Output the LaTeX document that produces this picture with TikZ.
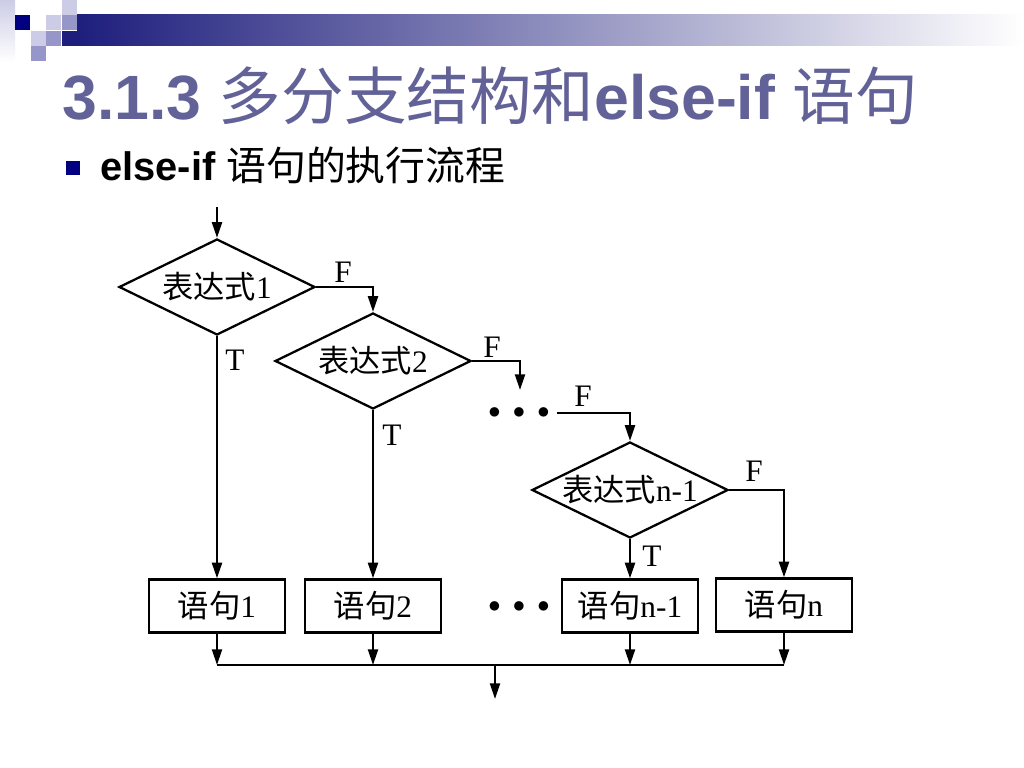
\documentclass[tikz,border=0pt]{standalone}
\usepackage{fontspec}
\setmainfont{Liberation Serif}
\newfontfamily\cjk{Noto Sans CJK SC}
\newfontfamily\headfont{Liberation Sans}
\newcommand{\zhtext}[1]{{\cjk\mdseries #1}}
\usetikzlibrary{shapes.geometric,arrows.meta}
\definecolor{titleblue}{RGB}{98,98,152}
\definecolor{slidenavy}{RGB}{0,0,128}
\definecolor{barnavy}{RGB}{30,30,125}
\definecolor{lightsq}{RGB}{204,204,230}
\definecolor{midsq}{RGB}{150,150,200}
\tikzset{
  test/.style={diamond, draw, line width=1.6pt, aspect=2.1, inner sep=0pt,
    minimum width=137.8pt, minimum height=67.5pt, font=\fontsize{22}{25}\selectfont},
  stmt/.style={rectangle, draw, line width=1.6pt, minimum width=95.6pt,
    minimum height=37.3pt, font=\fontsize{22}{25}\selectfont},
  lbl/.style={inner sep=0pt, font=\fontsize{22}{25}\selectfont},
  dots/.style={inner sep=0pt, font=\fontsize{19}{22}\selectfont},
  flow/.style={line width=1.6pt, -{Triangle[length=11pt,width=7pt]}},
}

\begin{document}
\begin{tikzpicture}[x=0.703125pt, y=-0.703125pt]
    \useasboundingbox (0,0) rectangle (1024,768);
    % corner squares and bar
    \shade[top color=lightsq, bottom color=white] (0,0) rectangle (15,62);
    \shade[left color=barnavy, right color=white] (77,15) rectangle (1024,46);
    \fill[slidenavy] (15,15) rectangle (30,30);
    \fill[lightsq] (46,15) rectangle (61,30);
    \fill[lightsq] (62,0) rectangle (77,15);
    \fill[midsq] (62,15) rectangle (77,30);
    \fill[barnavy] (62,31) rectangle (77,46);
    \fill[lightsq] (31,31) rectangle (46,46);
    \fill[midsq] (46,31) rectangle (61,46);
    \fill[midsq] (31,46) rectangle (46,61);
    % heading
    \node[anchor=base west, inner sep=0pt, text=titleblue,
      font=\headfont\bfseries\fontsize{44}{50}\selectfont] (title) at (62,120)
      {3.1.3 \zhtext{多分支结构和}else-if \zhtext{语句}};
    \node[fill=slidenavy, inner sep=0pt, minimum size=9.8pt] (bullet) at (73,168) {};
    \node[anchor=base west, inner sep=0pt, font=\headfont\fontsize{28}{32}\selectfont]
      (sub) at (100,181) {\textbf{else-if} \zhtext{语句的执行流程}};
    % flow chart
    \coordinate (in) at (217,207);
    \node[test] (d1) at (217,287) {\zhtext{表达式}1};
    \node[test] (d2) at (373,361) {\zhtext{表达式}2};
    \node[test] (d3) at (630,490) {\zhtext{表达式}n-1};
    \node[stmt] (b1) at (217,606) {\zhtext{语句}1};
    \node[stmt] (b2) at (373,606) {\zhtext{语句}2};
    \node[stmt] (b3) at (630,606) {\zhtext{语句}n-1};
    \node[stmt] (bn) at (784,605) {\zhtext{语句}n};
    \node[dots] (dots1) at (519,413) {$\bullet\mkern5mu\bullet\mkern5mu\bullet$};
    \node[dots] (dots2) at (519,607) {$\bullet\mkern5mu\bullet\mkern5mu\bullet$};
    \coordinate (f2) at (520,390);
    \coordinate (f3) at (557,413);
    \coordinate (bus) at (495,665);
    \coordinate (out) at (495,699);
    \node[lbl] (F1) at (343,272) {F};
    \node[lbl] (F2) at (492,347) {F};
    \node[lbl] (F3) at (583,396) {F};
    \node[lbl] (F4) at (754,471) {F};
    \node[lbl] (T1) at (235,360) {T};
    \node[lbl] (T2) at (392,435) {T};
    \node[lbl] (T3) at (652,556) {T};
    \draw[flow] (in) -- (d1);
    \draw[flow] (d1.east) -| (d2.north);
    \draw[flow] (d2.east) -| (f2);
    \draw[flow] (f3) -| (d3.north);
    \draw[flow] (d3.east) -| (bn.north);
    \draw[flow] (d1.south) -- (b1.north);
    \draw[flow] (d2.south) -- (b2.north);
    \draw[flow] (d3.south) -- (b3.north);
    \foreach \b in {b1,b2,b3,bn}
        \draw[flow] (\b.south) -- (\b.south |- bus);
    \draw[line width=1.6pt] (b1.south |- bus) -- (bn.south |- bus);
    \draw[flow] (bus) -- (out);
\end{tikzpicture}
\end{document}
